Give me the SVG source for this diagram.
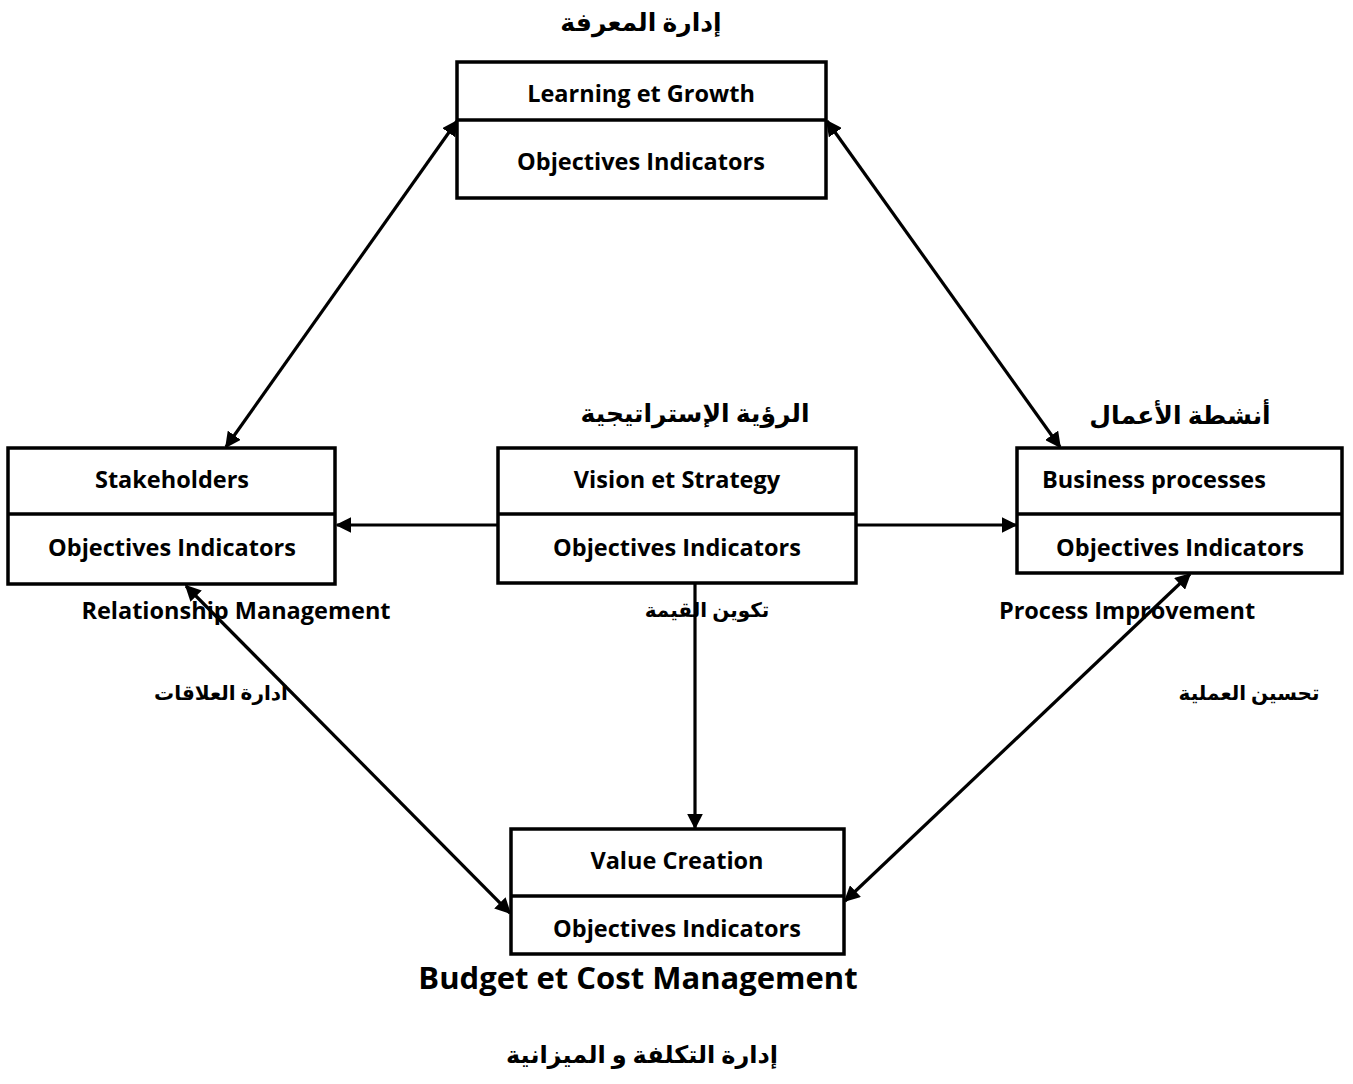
<svg xmlns="http://www.w3.org/2000/svg" width="1353" height="1084" viewBox="0 0 1353 1084">
<style>
.box{fill:#fff;stroke:#000;stroke-width:3.5}
.div{stroke:#000;stroke-width:3.5}
.lbl{font-family:"Open Sans","Liberation Sans",sans-serif;font-weight:bold;font-size:23.5px;fill:#000;text-anchor:middle;dominant-baseline:central}
.ar{font-family:"Liberation Serif","DejaVu Sans",serif;font-weight:bold;fill:#000;text-anchor:middle;dominant-baseline:central;direction:rtl}
.big{font-size:25px}
.sm{font-size:20px}
.con{stroke:#000;stroke-width:3.2;fill:none}
</style>
<defs>
<marker id="ah" viewBox="0 0 10 10" refX="9" refY="5" markerWidth="5" markerHeight="5" orient="auto-start-reverse" markerUnits="strokeWidth">
<path d="M0,0 L10,5 L0,10 z" fill="#000"/>
</marker>
</defs>
<rect width="1353" height="1084" fill="#fff"/>
<g id="connectors">
<line class="con" x1="457" y1="121" x2="226" y2="447" marker-start="url(#ah)" marker-end="url(#ah)"/>
<line class="con" x1="827" y1="121" x2="1060" y2="447" marker-start="url(#ah)" marker-end="url(#ah)"/>
<line class="con" x1="498" y1="525" x2="337" y2="525" marker-end="url(#ah)"/>
<line class="con" x1="856" y1="525" x2="1016" y2="525" marker-end="url(#ah)"/>
<line class="con" x1="695" y1="584" x2="695" y2="828" marker-end="url(#ah)"/>
<line class="con" x1="186" y1="586" x2="510" y2="913" marker-start="url(#ah)" marker-end="url(#ah)"/>
<line class="con" x1="1190" y1="574" x2="845" y2="901" marker-start="url(#ah)" marker-end="url(#ah)"/>
</g>
<g id="learning">
<rect class="box" x="457" y="62" width="369" height="136"/>
<line class="div" x1="457" y1="120" x2="826" y2="120"/>
<text class="lbl" x="641" y="93">Learning et Growth</text>
<text class="lbl" x="641" y="161">Objectives Indicators</text>
</g>
<g id="stakeholders">
<rect class="box" x="8" y="448" width="327" height="136"/>
<line class="div" x1="8" y1="514" x2="335" y2="514"/>
<text class="lbl" x="172" y="479">Stakeholders</text>
<text class="lbl" x="172" y="547">Objectives Indicators</text>
</g>
<g id="vision">
<rect class="box" x="498" y="448" width="358" height="135"/>
<line class="div" x1="498" y1="514" x2="856" y2="514"/>
<text class="lbl" x="677" y="479">Vision et Strategy</text>
<text class="lbl" x="677" y="547">Objectives Indicators</text>
</g>
<g id="business">
<rect class="box" x="1017" y="448" width="325" height="125"/>
<line class="div" x1="1017" y1="514" x2="1342" y2="514"/>
<text class="lbl" x="1154" y="479">Business processes</text>
<text class="lbl" x="1180" y="547">Objectives Indicators</text>
</g>
<g id="value">
<rect class="box" x="511" y="829" width="333" height="125"/>
<line class="div" x1="511" y1="896" x2="844" y2="896"/>
<text class="lbl" x="677" y="860">Value Creation</text>
<text class="lbl" x="677" y="928">Objectives Indicators</text>
</g>
<g id="labels">
<text class="ar big" x="641" y="22">إدارة المعرفة</text>
<text class="ar big" x="695" y="413">الرؤية الإستراتيجية</text>
<text class="ar big" x="1180" y="415">أنشطة الأعمال</text>
<text class="lbl" x="236" y="610">Relationship Management</text>
<text class="ar sm" x="707" y="610">تكوين القيمة</text>
<text class="lbl" x="1127" y="610">Process Improvement</text>
<text class="ar sm" x="221" y="693">ادارة العلاقات</text>
<text class="ar sm" x="1249" y="693">تحسين العملية</text>
<text class="lbl" x="638" y="977" style="font-size:31px">Budget et Cost Management</text>
<text class="ar" x="642" y="1055" style="font-size:24px">إدارة التكلفة و الميزانية</text>
</g>
</svg>
